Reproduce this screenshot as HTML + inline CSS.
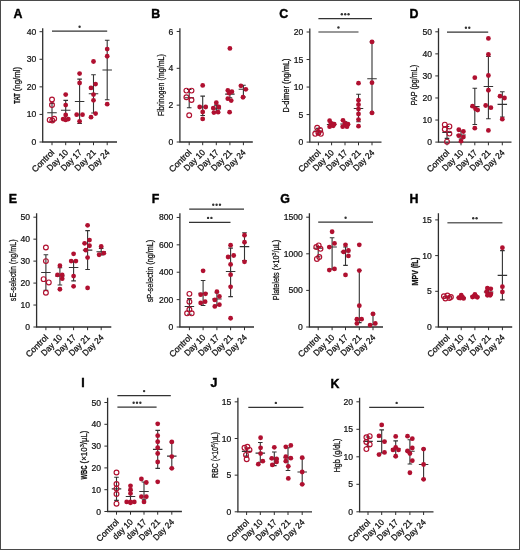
<!DOCTYPE html>
<html><head><meta charset="utf-8"><title>Figure</title>
<style>
html,body{margin:0;padding:0;background:#fff;}
body{width:520px;height:550px;overflow:hidden;position:relative;}
svg{display:block;font-family:"Liberation Sans",sans-serif;filter:blur(0.3px);}
.bd{position:absolute;left:0;top:0;width:518px;height:548px;border:1px solid #4a4a4a;}
.pl{font-size:12.4px;font-weight:bold;fill:#000;stroke:#000;stroke-width:0.4;}
.ax{fill:none;stroke:#2e2e2e;stroke-width:1.3;}
.tk{fill:none;stroke:#2e2e2e;stroke-width:1;}
.tl{font-size:8.6px;fill:#111;text-anchor:end;stroke:#111;stroke-width:0.22;}
.xl{font-size:8.6px;fill:#111;text-anchor:end;stroke:#111;stroke-width:0.28;}
.yt{font-size:8.6px;fill:#111;stroke:#111;stroke-width:0.26;}
.ytb{font-size:8.6px;fill:#111;font-weight:bold;stroke:#111;stroke-width:0.25;}
.yts{font-size:6.2px;fill:#111;stroke:#111;stroke-width:0.2;}
.pf{fill:#b01030;}
.po{fill:none;stroke:#b01030;stroke-width:1.15;}
.eb{fill:none;stroke:#333;stroke-width:1.1;}
.sg{fill:none;stroke:#333;stroke-width:1.2;}
.sg2{fill:none;stroke:#666;stroke-width:1.6;}
.st{fill:#333;}
</style></head>
<body><svg width="520" height="550" viewBox="0 0 520 550">
<text x="13.6" y="18" class="pl">A</text>
<path d="M42.7 28.3V142H117" class="ax"/>
<text x="36.2" y="145.05" class="tl">0</text>
<text x="36.2" y="117.47" class="tl">10</text>
<text x="36.2" y="89.9" class="tl">20</text>
<text x="36.2" y="62.33" class="tl">30</text>
<text x="36.2" y="34.75" class="tl">40</text>
<path d="M39.5 142H42.7M39.5 114.42H42.7M39.5 86.85H42.7M39.5 59.28H42.7M39.5 31.7H42.7M52 142V145.2M65.7 142V145.2M79.6 142V145.2M93.5 142V145.2M107.2 142V145.2" class="tk"/>
<text transform="translate(54.9 153.1) rotate(-45)" class="xl" textLength="27.72" lengthAdjust="spacingAndGlyphs">Control</text>
<text transform="translate(68.6 153.1) rotate(-45)" class="xl" textLength="25.88" lengthAdjust="spacingAndGlyphs">Day 10</text>
<text transform="translate(82.5 153.1) rotate(-45)" class="xl" textLength="25.88" lengthAdjust="spacingAndGlyphs">Day 17</text>
<text transform="translate(96.4 153.1) rotate(-45)" class="xl" textLength="25.88" lengthAdjust="spacingAndGlyphs">Day 21</text>
<text transform="translate(110.1 153.1) rotate(-45)" class="xl" textLength="25.88" lengthAdjust="spacingAndGlyphs">Day 24</text>
<text transform="translate(19.9 103.7) rotate(-90)" y="0" class="ytb" textLength="10.4" lengthAdjust="spacingAndGlyphs">TAT</text>
<text transform="translate(19.9 91.27) rotate(-90)" y="0" class="yt" textLength="24.37" lengthAdjust="spacingAndGlyphs">(ng/ml)</text>
<path d="M52 103.4V121.59M49.7 103.4h4.6M49.7 121.59h4.6M47.25 112.77h9.5" class="eb"/>
<circle cx="52" cy="99.53" r="2.4" class="po"/>
<circle cx="52" cy="105.05" r="2.4" class="po"/>
<circle cx="49.7" cy="119.94" r="2.4" class="po"/>
<circle cx="54.2" cy="118.84" r="2.4" class="po"/>
<circle cx="52.3" cy="120.49" r="2.4" class="po"/>
<path d="M65.7 100.36V119.94M63.4 100.36h4.6M63.4 119.94h4.6M60.95 110.29h9.5" class="eb"/>
<circle cx="65.7" cy="94.57" r="2.4" class="pf"/>
<circle cx="65.7" cy="105.05" r="2.4" class="pf"/>
<circle cx="65.7" cy="114.98" r="2.4" class="pf"/>
<circle cx="63.1" cy="119.11" r="2.4" class="pf"/>
<circle cx="68.3" cy="119.11" r="2.4" class="pf"/>
<circle cx="65.7" cy="119.94" r="2.4" class="pf"/>
<path d="M79.6 79.13V123.52M77.3 79.13h4.6M77.3 123.52h4.6M74.85 101.46h9.5" class="eb"/>
<circle cx="79.6" cy="73.61" r="2.4" class="pf"/>
<circle cx="79.6" cy="82.99" r="2.4" class="pf"/>
<circle cx="76.7" cy="114.7" r="2.4" class="pf"/>
<circle cx="82.5" cy="114.7" r="2.4" class="pf"/>
<circle cx="79.6" cy="121.32" r="2.4" class="pf"/>
<path d="M93.5 74.72V113.05M91.2 74.72h4.6M91.2 113.05h4.6M88.75 93.74h9.5" class="eb"/>
<circle cx="93.5" cy="61.48" r="2.4" class="pf"/>
<circle cx="95.6" cy="84.09" r="2.4" class="pf"/>
<circle cx="91" cy="87.95" r="2.4" class="pf"/>
<circle cx="93.5" cy="94.57" r="2.4" class="pf"/>
<circle cx="93.5" cy="100.36" r="2.4" class="pf"/>
<circle cx="95.6" cy="113.6" r="2.4" class="pf"/>
<circle cx="91" cy="117.18" r="2.4" class="pf"/>
<path d="M107.2 40.25V99.81M104.9 40.25h4.6M104.9 99.81h4.6M102.45 70.03h9.5" class="eb"/>
<circle cx="107.2" cy="49.07" r="2.4" class="pf"/>
<circle cx="107.2" cy="56.24" r="2.4" class="pf"/>
<circle cx="107.2" cy="104.22" r="2.4" class="pf"/>
<path d="M52 31.2H107.2" class="sg"/>
<circle cx="79.6" cy="26.7" r="1.2" class="st"/>
<text x="151.3" y="18" class="pl">B</text>
<path d="M179.9 28.3V142H252.8" class="ax"/>
<text x="173.4" y="145.05" class="tl">0</text>
<text x="173.4" y="108.21" class="tl">2</text>
<text x="173.4" y="71.37" class="tl">4</text>
<text x="173.4" y="34.53" class="tl">6</text>
<path d="M176.7 142H179.9M176.7 105.16H179.9M176.7 68.32H179.9M176.7 31.48H179.9M189.2 142V145.2M202.7 142V145.2M216.3 142V145.2M229.9 142V145.2M243.4 142V145.2" class="tk"/>
<text transform="translate(192.1 153.1) rotate(-45)" class="xl" textLength="27.72" lengthAdjust="spacingAndGlyphs">Control</text>
<text transform="translate(205.6 153.1) rotate(-45)" class="xl" textLength="25.88" lengthAdjust="spacingAndGlyphs">Day 10</text>
<text transform="translate(219.2 153.1) rotate(-45)" class="xl" textLength="25.88" lengthAdjust="spacingAndGlyphs">Day 17</text>
<text transform="translate(232.8 153.1) rotate(-45)" class="xl" textLength="25.88" lengthAdjust="spacingAndGlyphs">Day 21</text>
<text transform="translate(246.3 153.1) rotate(-45)" class="xl" textLength="25.88" lengthAdjust="spacingAndGlyphs">Day 24</text>
<text transform="translate(164 116.1) rotate(-90)" y="0" class="yt" textLength="62" lengthAdjust="spacingAndGlyphs">Fibrinogen (mg/mL)</text>
<path d="M189.2 89.5V107.74M186.9 89.5h4.6M186.9 107.74h4.6M184.45 97.79h9.5" class="eb"/>
<circle cx="186.4" cy="90.61" r="2.4" class="po"/>
<circle cx="191.5" cy="90.61" r="2.4" class="po"/>
<circle cx="186.4" cy="97.24" r="2.4" class="po"/>
<circle cx="191.5" cy="100" r="2.4" class="po"/>
<circle cx="189.2" cy="115.29" r="2.4" class="po"/>
<path d="M202.7 96.13V115.48M200.4 96.13h4.6M200.4 115.48h4.6M197.95 107h9.5" class="eb"/>
<circle cx="202.7" cy="85.45" r="2.4" class="pf"/>
<circle cx="199.7" cy="107" r="2.4" class="pf"/>
<circle cx="205.7" cy="107" r="2.4" class="pf"/>
<circle cx="202.7" cy="111.98" r="2.4" class="pf"/>
<circle cx="202.7" cy="118.97" r="2.4" class="pf"/>
<path d="M216.3 105.16V112.53M214 105.16h4.6M214 112.53h4.6M211.55 108.84h9.5" class="eb"/>
<circle cx="216.3" cy="102.77" r="2.4" class="pf"/>
<circle cx="213.3" cy="108.11" r="2.4" class="pf"/>
<circle cx="218.8" cy="107" r="2.4" class="pf"/>
<circle cx="213.9" cy="112.53" r="2.4" class="pf"/>
<circle cx="218.1" cy="112.16" r="2.4" class="pf"/>
<path d="M229.9 91.34V97.79M227.6 91.34h4.6M227.6 97.79h4.6M225.15 94.11h9.5" class="eb"/>
<circle cx="229.9" cy="48.43" r="2.4" class="pf"/>
<circle cx="227.8" cy="90.42" r="2.4" class="pf"/>
<circle cx="231.9" cy="91.71" r="2.4" class="pf"/>
<circle cx="229.2" cy="93.19" r="2.4" class="pf"/>
<circle cx="227.8" cy="98.71" r="2.4" class="pf"/>
<circle cx="231.2" cy="100.55" r="2.4" class="pf"/>
<circle cx="229.6" cy="112.16" r="2.4" class="pf"/>
<path d="M243.4 85.27V96.87M241.1 85.27h4.6M241.1 96.87h4.6M238.65 89.32h9.5" class="eb"/>
<circle cx="240.9" cy="85.82" r="2.4" class="pf"/>
<circle cx="245.8" cy="89.32" r="2.4" class="pf"/>
<circle cx="243" cy="97.24" r="2.4" class="pf"/>
<text x="279.3" y="18" class="pl">C</text>
<path d="M309.8 28.4V142.1H381.5" class="ax"/>
<text x="303.3" y="145.15" class="tl">0</text>
<text x="303.3" y="117.62" class="tl">5</text>
<text x="303.3" y="90.1" class="tl">10</text>
<text x="303.3" y="62.57" class="tl">15</text>
<text x="303.3" y="35.05" class="tl">20</text>
<path d="M306.6 142.1H309.8M306.6 114.57H309.8M306.6 87.05H309.8M306.6 59.52H309.8M306.6 32H309.8M318.4 142.1V145.3M331.6 142.1V145.3M345 142.1V145.3M358.5 142.1V145.3M372 142.1V145.3" class="tk"/>
<text transform="translate(321.3 153.2) rotate(-45)" class="xl" textLength="27.72" lengthAdjust="spacingAndGlyphs">Control</text>
<text transform="translate(334.5 153.2) rotate(-45)" class="xl" textLength="25.88" lengthAdjust="spacingAndGlyphs">Day 10</text>
<text transform="translate(347.9 153.2) rotate(-45)" class="xl" textLength="25.88" lengthAdjust="spacingAndGlyphs">Day 17</text>
<text transform="translate(361.4 153.2) rotate(-45)" class="xl" textLength="25.88" lengthAdjust="spacingAndGlyphs">Day 21</text>
<text transform="translate(374.9 153.2) rotate(-45)" class="xl" textLength="25.88" lengthAdjust="spacingAndGlyphs">Day 24</text>
<text transform="translate(288.6 112.5) rotate(-90)" y="0" class="yt" textLength="54" lengthAdjust="spacingAndGlyphs">D-dimer (ng/mL)</text>
<path d="M318.4 128.34V133.84M316.1 128.34h4.6M316.1 133.84h4.6M313.65 131.09h9.5" class="eb"/>
<circle cx="317.2" cy="127.79" r="2.4" class="po"/>
<circle cx="320.1" cy="129.99" r="2.4" class="po"/>
<circle cx="315.2" cy="133.84" r="2.4" class="po"/>
<circle cx="320.9" cy="133.84" r="2.4" class="po"/>
<circle cx="318.4" cy="132.74" r="2.4" class="po"/>
<path d="M331.6 122.28V126.69M329.3 122.28h4.6M329.3 126.69h4.6M326.85 124.48h9.5" class="eb"/>
<circle cx="329.6" cy="120.63" r="2.4" class="pf"/>
<circle cx="330.8" cy="123.11" r="2.4" class="pf"/>
<circle cx="334.2" cy="124.21" r="2.4" class="pf"/>
<circle cx="329.6" cy="126.69" r="2.4" class="pf"/>
<circle cx="333.2" cy="125.86" r="2.4" class="pf"/>
<path d="M345 121.73V126.14M342.7 121.73h4.6M342.7 126.14h4.6M340.25 123.93h9.5" class="eb"/>
<circle cx="343" cy="120.36" r="2.4" class="pf"/>
<circle cx="345" cy="123.38" r="2.4" class="pf"/>
<circle cx="348" cy="124.21" r="2.4" class="pf"/>
<circle cx="342.7" cy="126.69" r="2.4" class="pf"/>
<circle cx="347" cy="126.69" r="2.4" class="pf"/>
<path d="M358.5 94.21V121.73M356.2 94.21h4.6M356.2 121.73h4.6M353.75 108.52h9.5" class="eb"/>
<circle cx="358.5" cy="83.2" r="2.4" class="pf"/>
<circle cx="358.5" cy="100.26" r="2.4" class="pf"/>
<circle cx="358.5" cy="104.67" r="2.4" class="pf"/>
<circle cx="358.5" cy="109.07" r="2.4" class="pf"/>
<circle cx="358.5" cy="114.02" r="2.4" class="pf"/>
<circle cx="358.5" cy="119.53" r="2.4" class="pf"/>
<circle cx="358.5" cy="126.14" r="2.4" class="pf"/>
<path d="M372 41.91V112.92M369.7 41.91h4.6M369.7 112.92h4.6M367.25 78.79h9.5" class="eb"/>
<circle cx="372" cy="41.91" r="2.4" class="pf"/>
<circle cx="372" cy="82.65" r="2.4" class="pf"/>
<circle cx="372" cy="112.92" r="2.4" class="pf"/>
<path d="M318.4 32H358.5" class="sg"/>
<circle cx="338.45" cy="27.5" r="1.2" class="st"/>
<path d="M318.4 18.7H372" class="sg"/>
<circle cx="341.85" cy="14.2" r="1.2" class="st"/>
<circle cx="345.2" cy="14.2" r="1.2" class="st"/>
<circle cx="348.55" cy="14.2" r="1.2" class="st"/>
<text x="409.6" y="18" class="pl">D</text>
<path d="M438.5 28.3V142.1H511.5" class="ax"/>
<text x="432" y="145.15" class="tl">0</text>
<text x="432" y="123.09" class="tl">10</text>
<text x="432" y="101.03" class="tl">20</text>
<text x="432" y="78.97" class="tl">30</text>
<text x="432" y="56.91" class="tl">40</text>
<text x="432" y="34.85" class="tl">50</text>
<path d="M435.3 142.1H438.5M435.3 120.04H438.5M435.3 97.98H438.5M435.3 75.92H438.5M435.3 53.86H438.5M435.3 31.8H438.5M447 142.1V145.3M461 142.1V145.3M474.8 142.1V145.3M488.4 142.1V145.3M502.3 142.1V145.3" class="tk"/>
<text transform="translate(449.9 153.2) rotate(-45)" class="xl" textLength="27.72" lengthAdjust="spacingAndGlyphs">Control</text>
<text transform="translate(463.9 153.2) rotate(-45)" class="xl" textLength="25.88" lengthAdjust="spacingAndGlyphs">Day 10</text>
<text transform="translate(477.7 153.2) rotate(-45)" class="xl" textLength="25.88" lengthAdjust="spacingAndGlyphs">Day 17</text>
<text transform="translate(491.3 153.2) rotate(-45)" class="xl" textLength="25.88" lengthAdjust="spacingAndGlyphs">Day 21</text>
<text transform="translate(505.2 153.2) rotate(-45)" class="xl" textLength="25.88" lengthAdjust="spacingAndGlyphs">Day 24</text>
<text transform="translate(417 105.3) rotate(-90)" y="0" class="yt" textLength="40.4" lengthAdjust="spacingAndGlyphs">PAP (pg/mL)</text>
<path d="M447 126.44V138.35M444.7 126.44h4.6M444.7 138.35h4.6M442.25 132.39h9.5" class="eb"/>
<circle cx="444.8" cy="124.67" r="2.4" class="po"/>
<circle cx="449.4" cy="126.44" r="2.4" class="po"/>
<circle cx="444.8" cy="129.31" r="2.4" class="po"/>
<circle cx="449.4" cy="133.61" r="2.4" class="po"/>
<circle cx="447" cy="141.66" r="2.4" class="po"/>
<path d="M461 131.07V139.01M458.7 131.07h4.6M458.7 139.01h4.6M456.25 135.04h9.5" class="eb"/>
<circle cx="458.8" cy="129.75" r="2.4" class="pf"/>
<circle cx="463.4" cy="131.51" r="2.4" class="pf"/>
<circle cx="458.8" cy="135.7" r="2.4" class="pf"/>
<circle cx="463.4" cy="137.03" r="2.4" class="pf"/>
<circle cx="461" cy="141.22" r="2.4" class="pf"/>
<path d="M474.8 88.27V124.45M472.5 88.27h4.6M472.5 124.45h4.6M470.05 106.58h9.5" class="eb"/>
<circle cx="474.8" cy="77.68" r="2.4" class="pf"/>
<circle cx="472.5" cy="106.14" r="2.4" class="pf"/>
<circle cx="475.5" cy="108.79" r="2.4" class="pf"/>
<circle cx="477.7" cy="110.11" r="2.4" class="pf"/>
<circle cx="474.8" cy="128.2" r="2.4" class="pf"/>
<path d="M488.4 56.51V118.72M486.1 56.51h4.6M486.1 118.72h4.6M483.65 86.51h9.5" class="eb"/>
<circle cx="488.4" cy="38.42" r="2.4" class="pf"/>
<circle cx="488.4" cy="54.52" r="2.4" class="pf"/>
<circle cx="488.4" cy="75.48" r="2.4" class="pf"/>
<circle cx="488.4" cy="90.26" r="2.4" class="pf"/>
<circle cx="485.7" cy="105.48" r="2.4" class="pf"/>
<circle cx="490.9" cy="107.69" r="2.4" class="pf"/>
<circle cx="488.4" cy="130.41" r="2.4" class="pf"/>
<path d="M502.3 91.8V116.95M500 91.8h4.6M500 116.95h4.6M497.55 104.38h9.5" class="eb"/>
<circle cx="500" cy="96.22" r="2.4" class="pf"/>
<circle cx="504.5" cy="97.98" r="2.4" class="pf"/>
<circle cx="502.3" cy="119.16" r="2.4" class="pf"/>
<path d="M447 32.2H488.2" class="sg"/>
<circle cx="465.93" cy="27.7" r="1.2" class="st"/>
<circle cx="469.28" cy="27.7" r="1.2" class="st"/>
<text x="8.8" y="202.5" class="pl">E</text>
<path d="M36.6 213.3V327H111.3" class="ax"/>
<text x="30.1" y="330.05" class="tl">0</text>
<text x="30.1" y="308.09" class="tl">10</text>
<text x="30.1" y="286.13" class="tl">20</text>
<text x="30.1" y="264.17" class="tl">30</text>
<text x="30.1" y="242.21" class="tl">40</text>
<text x="30.1" y="220.25" class="tl">50</text>
<path d="M33.4 327H36.6M33.4 305.04H36.6M33.4 283.08H36.6M33.4 261.12H36.6M33.4 239.16H36.6M33.4 217.2H36.6M45.9 327V330.2M59.9 327V330.2M73.6 327V330.2M87.6 327V330.2M101.2 327V330.2" class="tk"/>
<text transform="translate(48.8 338.1) rotate(-45)" class="xl" textLength="27.72" lengthAdjust="spacingAndGlyphs">Control</text>
<text transform="translate(62.8 338.1) rotate(-45)" class="xl" textLength="25.88" lengthAdjust="spacingAndGlyphs">Day 10</text>
<text transform="translate(76.5 338.1) rotate(-45)" class="xl" textLength="25.88" lengthAdjust="spacingAndGlyphs">Day 17</text>
<text transform="translate(90.5 338.1) rotate(-45)" class="xl" textLength="25.88" lengthAdjust="spacingAndGlyphs">Day 21</text>
<text transform="translate(104.1 338.1) rotate(-45)" class="xl" textLength="25.88" lengthAdjust="spacingAndGlyphs">Day 24</text>
<text transform="translate(15.6 301.15) rotate(-90)" y="0" class="yt" textLength="61.7" lengthAdjust="spacingAndGlyphs">sE-selectin (ng/mL)</text>
<path d="M45.9 254.75V290.33M43.6 254.75h4.6M43.6 290.33h4.6M41.15 272.54h9.5" class="eb"/>
<circle cx="45.9" cy="247.5" r="2.4" class="po"/>
<circle cx="45.9" cy="261.12" r="2.4" class="po"/>
<circle cx="43.6" cy="279.13" r="2.4" class="po"/>
<circle cx="48.8" cy="282.42" r="2.4" class="po"/>
<circle cx="45.9" cy="292.74" r="2.4" class="po"/>
<path d="M59.9 267.71V285.06M57.6 267.71h4.6M57.6 285.06h4.6M55.15 276.05h9.5" class="eb"/>
<circle cx="59.9" cy="265.73" r="2.4" class="pf"/>
<circle cx="57.5" cy="274.95" r="2.4" class="pf"/>
<circle cx="62.2" cy="274.95" r="2.4" class="pf"/>
<circle cx="62.2" cy="278.69" r="2.4" class="pf"/>
<circle cx="59.9" cy="289.23" r="2.4" class="pf"/>
<path d="M73.6 261.12V280.88M71.3 261.12h4.6M71.3 280.88h4.6M68.85 267.49h9.5" class="eb"/>
<circle cx="73.6" cy="253.87" r="2.4" class="pf"/>
<circle cx="71.2" cy="261.12" r="2.4" class="pf"/>
<circle cx="75.9" cy="261.12" r="2.4" class="pf"/>
<circle cx="73.6" cy="276.05" r="2.4" class="pf"/>
<circle cx="73.6" cy="286.37" r="2.4" class="pf"/>
<path d="M87.6 230.6V269.46M85.3 230.6h4.6M85.3 269.46h4.6M82.85 250.14h9.5" class="eb"/>
<circle cx="87.6" cy="225.33" r="2.4" class="pf"/>
<circle cx="89.5" cy="240.04" r="2.4" class="pf"/>
<circle cx="84.6" cy="243.33" r="2.4" class="pf"/>
<circle cx="89.5" cy="245.75" r="2.4" class="pf"/>
<circle cx="85.8" cy="250.14" r="2.4" class="pf"/>
<circle cx="87.6" cy="257.61" r="2.4" class="pf"/>
<circle cx="87.6" cy="287.91" r="2.4" class="pf"/>
<path d="M101.2 248.38V254.97M98.9 248.38h4.6M98.9 254.97h4.6M96.45 251.68h9.5" class="eb"/>
<circle cx="101.2" cy="246.41" r="2.4" class="pf"/>
<circle cx="99.1" cy="254.75" r="2.4" class="pf"/>
<circle cx="103.8" cy="253.21" r="2.4" class="pf"/>
<text x="151.7" y="202.5" class="pl">F</text>
<path d="M179.9 213.3V327H254" class="ax"/>
<text x="173.4" y="330.05" class="tl">0</text>
<text x="173.4" y="302.66" class="tl">200</text>
<text x="173.4" y="275.27" class="tl">400</text>
<text x="173.4" y="247.88" class="tl">600</text>
<text x="173.4" y="220.49" class="tl">800</text>
<path d="M176.7 327H179.9M176.7 299.61H179.9M176.7 272.22H179.9M176.7 244.83H179.9M176.7 217.44H179.9M189.4 327V330.2M203.1 327V330.2M216.9 327V330.2M230.6 327V330.2M244.5 327V330.2" class="tk"/>
<text transform="translate(192.3 338.1) rotate(-45)" class="xl" textLength="27.72" lengthAdjust="spacingAndGlyphs">Control</text>
<text transform="translate(206 338.1) rotate(-45)" class="xl" textLength="25.88" lengthAdjust="spacingAndGlyphs">Day 10</text>
<text transform="translate(219.8 338.1) rotate(-45)" class="xl" textLength="25.88" lengthAdjust="spacingAndGlyphs">Day 17</text>
<text transform="translate(233.5 338.1) rotate(-45)" class="xl" textLength="25.88" lengthAdjust="spacingAndGlyphs">Day 21</text>
<text transform="translate(247.4 338.1) rotate(-45)" class="xl" textLength="25.88" lengthAdjust="spacingAndGlyphs">Day 24</text>
<text transform="translate(152.5 302.3) rotate(-90)" y="0" class="yt" textLength="62.6" lengthAdjust="spacingAndGlyphs">sP-selectin (ng/mL)</text>
<path d="M189.4 298.65V314.26M187.1 298.65h4.6M187.1 314.26h4.6M184.65 306.46h9.5" class="eb"/>
<circle cx="189.4" cy="293.86" r="2.4" class="po"/>
<circle cx="189.4" cy="301.8" r="2.4" class="po"/>
<circle cx="189.4" cy="309.47" r="2.4" class="po"/>
<circle cx="187.1" cy="313.31" r="2.4" class="po"/>
<circle cx="191.7" cy="313.31" r="2.4" class="po"/>
<path d="M203.1 280.44V305.5M200.8 280.44h4.6M200.8 305.5h4.6M198.35 293.31h9.5" class="eb"/>
<circle cx="203.1" cy="270.85" r="2.4" class="pf"/>
<circle cx="200.7" cy="294.68" r="2.4" class="pf"/>
<circle cx="205.5" cy="293.86" r="2.4" class="pf"/>
<circle cx="200.7" cy="302.9" r="2.4" class="pf"/>
<circle cx="205.1" cy="301.66" r="2.4" class="pf"/>
<path d="M216.9 292.76V305.36M214.6 292.76h4.6M214.6 305.36h4.6M212.15 299.06h9.5" class="eb"/>
<circle cx="216.9" cy="291.67" r="2.4" class="pf"/>
<circle cx="219.4" cy="296.46" r="2.4" class="pf"/>
<circle cx="214.8" cy="299.88" r="2.4" class="pf"/>
<circle cx="219.4" cy="304.68" r="2.4" class="pf"/>
<circle cx="214.8" cy="306.46" r="2.4" class="pf"/>
<path d="M230.6 248.12V296.6M228.3 248.12h4.6M228.3 296.6h4.6M225.85 271.54h9.5" class="eb"/>
<circle cx="230.6" cy="245.24" r="2.4" class="pf"/>
<circle cx="228.1" cy="257.02" r="2.4" class="pf"/>
<circle cx="233.7" cy="255.51" r="2.4" class="pf"/>
<circle cx="230.6" cy="264.41" r="2.4" class="pf"/>
<circle cx="230.6" cy="274.69" r="2.4" class="pf"/>
<circle cx="230.6" cy="286.87" r="2.4" class="pf"/>
<circle cx="230.6" cy="318.24" r="2.4" class="pf"/>
<path d="M244.5 232.78V260.44M242.2 232.78h4.6M242.2 260.44h4.6M239.75 246.61h9.5" class="eb"/>
<circle cx="244.5" cy="235.24" r="2.4" class="pf"/>
<circle cx="244.5" cy="242.23" r="2.4" class="pf"/>
<circle cx="244.5" cy="261.81" r="2.4" class="pf"/>
<path d="M189 222.4H230.5" class="sg"/>
<circle cx="208.07" cy="217.9" r="1.2" class="st"/>
<circle cx="211.43" cy="217.9" r="1.2" class="st"/>
<path d="M189.2 209.2H244" class="sg"/>
<circle cx="213.25" cy="204.7" r="1.2" class="st"/>
<circle cx="216.6" cy="204.7" r="1.2" class="st"/>
<circle cx="219.95" cy="204.7" r="1.2" class="st"/>
<text x="280.3" y="202.5" class="pl">G</text>
<path d="M309.4 213.3V327H383" class="ax"/>
<text x="302.9" y="330.05" class="tl">0</text>
<text x="302.9" y="293.45" class="tl">500</text>
<text x="302.9" y="256.85" class="tl">1000</text>
<text x="302.9" y="220.25" class="tl">1500</text>
<path d="M306.2 327H309.4M306.2 290.4H309.4M306.2 253.8H309.4M306.2 217.2H309.4M318.2 327V330.2M332.1 327V330.2M345.5 327V330.2M359.3 327V330.2M373 327V330.2" class="tk"/>
<text transform="translate(321.1 338.1) rotate(-45)" class="xl" textLength="27.72" lengthAdjust="spacingAndGlyphs">Control</text>
<text transform="translate(335 338.1) rotate(-45)" class="xl" textLength="25.88" lengthAdjust="spacingAndGlyphs">Day 10</text>
<text transform="translate(348.4 338.1) rotate(-45)" class="xl" textLength="25.88" lengthAdjust="spacingAndGlyphs">Day 17</text>
<text transform="translate(362.2 338.1) rotate(-45)" class="xl" textLength="25.88" lengthAdjust="spacingAndGlyphs">Day 21</text>
<text transform="translate(375.9 338.1) rotate(-45)" class="xl" textLength="25.88" lengthAdjust="spacingAndGlyphs">Day 24</text>
<text transform="translate(278.9 300.3) rotate(-90)" y="0" class="yt" textLength="44.92" lengthAdjust="spacingAndGlyphs">Platelets (×10</text>
<text transform="translate(278.9 255.38) rotate(-90)" y="-3" class="yts" textLength="2.93" lengthAdjust="spacingAndGlyphs">3</text>
<text transform="translate(278.9 252.45) rotate(-90)" y="0" class="yt" textLength="12.75" lengthAdjust="spacingAndGlyphs">/µL)</text>
<path d="M318.2 246.48V256.73M315.9 246.48h4.6M315.9 256.73h4.6M313.45 248.31h9.5" class="eb"/>
<circle cx="316.3" cy="247.07" r="2.4" class="po"/>
<circle cx="318.7" cy="245.38" r="2.4" class="po"/>
<circle cx="320.5" cy="248.82" r="2.4" class="po"/>
<circle cx="316.9" cy="258.92" r="2.4" class="po"/>
<circle cx="319.3" cy="257.09" r="2.4" class="po"/>
<path d="M332.1 237.7V269.17M329.8 237.7h4.6M329.8 269.17h4.6M327.35 247.07h9.5" class="eb"/>
<circle cx="332.1" cy="231.77" r="2.4" class="pf"/>
<circle cx="334.5" cy="243.41" r="2.4" class="pf"/>
<circle cx="329.3" cy="247.07" r="2.4" class="pf"/>
<circle cx="329.3" cy="270.12" r="2.4" class="pf"/>
<circle cx="334.5" cy="268.95" r="2.4" class="pf"/>
<path d="M345.5 247.07V265.37M343.2 247.07h4.6M343.2 265.37h4.6M340.75 251.9h9.5" class="eb"/>
<circle cx="345.5" cy="244.8" r="2.4" class="pf"/>
<circle cx="348.4" cy="250.51" r="2.4" class="pf"/>
<circle cx="343.6" cy="251.9" r="2.4" class="pf"/>
<circle cx="348.4" cy="255.92" r="2.4" class="pf"/>
<circle cx="345.5" cy="274.88" r="2.4" class="pf"/>
<path d="M359.3 270.56V322.61M357 270.56h4.6M357 322.61h4.6" class="eb"/>
<circle cx="359.3" cy="244.8" r="2.4" class="pf"/>
<circle cx="359.3" cy="270.56" r="2.4" class="pf"/>
<circle cx="359.3" cy="305.63" r="2.4" class="pf"/>
<circle cx="356.9" cy="319.17" r="2.4" class="pf"/>
<circle cx="361.6" cy="319.17" r="2.4" class="pf"/>
<circle cx="356.9" cy="323.41" r="2.4" class="pf"/>
<path d="M373 313.97V324.8M370.7 313.97h4.6M370.7 324.8h4.6" class="eb"/>
<circle cx="373" cy="313.97" r="2.4" class="pf"/>
<circle cx="370.1" cy="325.1" r="2.4" class="pf"/>
<circle cx="375.3" cy="323.41" r="2.4" class="pf"/>
<path d="M318.2 222.2H373" class="sg"/>
<circle cx="345.6" cy="217.7" r="1.2" class="st"/>
<text x="409.5" y="202.5" class="pl">H</text>
<path d="M438.4 213.3V327H512.2" class="ax"/>
<text x="431.9" y="330.05" class="tl">0</text>
<text x="431.9" y="294.35" class="tl">5</text>
<text x="431.9" y="258.65" class="tl">10</text>
<text x="431.9" y="222.95" class="tl">15</text>
<path d="M435.2 327H438.4M435.2 291.3H438.4M435.2 255.6H438.4M435.2 219.9H438.4M447.4 327V330.2M461.2 327V330.2M474.9 327V330.2M488.6 327V330.2M502.4 327V330.2" class="tk"/>
<text transform="translate(450.3 338.1) rotate(-45)" class="xl" textLength="27.72" lengthAdjust="spacingAndGlyphs">Control</text>
<text transform="translate(464.1 338.1) rotate(-45)" class="xl" textLength="25.88" lengthAdjust="spacingAndGlyphs">Day 10</text>
<text transform="translate(477.8 338.1) rotate(-45)" class="xl" textLength="25.88" lengthAdjust="spacingAndGlyphs">Day 17</text>
<text transform="translate(491.5 338.1) rotate(-45)" class="xl" textLength="25.88" lengthAdjust="spacingAndGlyphs">Day 21</text>
<text transform="translate(505.3 338.1) rotate(-45)" class="xl" textLength="25.88" lengthAdjust="spacingAndGlyphs">Day 24</text>
<text transform="translate(417.6 285.45) rotate(-90)" y="0" class="ytb" textLength="15.3" lengthAdjust="spacingAndGlyphs">MPV</text>
<text transform="translate(417.6 268.12) rotate(-90)" y="0" class="ytb" textLength="10.57" lengthAdjust="spacingAndGlyphs">(fL)</text>
<path d="M447.4 296.3V297.73M445.1 296.3h4.6M445.1 297.73h4.6M442.65 297.01h9.5" class="eb"/>
<circle cx="443.9" cy="296.3" r="2.4" class="po"/>
<circle cx="447.4" cy="295.58" r="2.4" class="po"/>
<circle cx="450.9" cy="297.01" r="2.4" class="po"/>
<circle cx="445.4" cy="298.44" r="2.4" class="po"/>
<circle cx="449.4" cy="298.08" r="2.4" class="po"/>
<path d="M461.2 297.01V298.44M458.9 297.01h4.6M458.9 298.44h4.6M456.45 297.73h9.5" class="eb"/>
<circle cx="461.2" cy="295.23" r="2.4" class="pf"/>
<circle cx="458.8" cy="297.73" r="2.4" class="pf"/>
<circle cx="463.6" cy="298.44" r="2.4" class="pf"/>
<circle cx="460.2" cy="298.08" r="2.4" class="pf"/>
<circle cx="462.4" cy="297.01" r="2.4" class="pf"/>
<path d="M474.9 295.58V297.01M472.6 295.58h4.6M472.6 297.01h4.6M470.15 296.3h9.5" class="eb"/>
<circle cx="474.9" cy="294.51" r="2.4" class="pf"/>
<circle cx="472.5" cy="297.01" r="2.4" class="pf"/>
<circle cx="477.3" cy="297.37" r="2.4" class="pf"/>
<circle cx="473.9" cy="296.3" r="2.4" class="pf"/>
<circle cx="476.1" cy="296.3" r="2.4" class="pf"/>
<path d="M488.6 289.16V294.87M486.3 289.16h4.6M486.3 294.87h4.6M483.85 292.01h9.5" class="eb"/>
<circle cx="487.4" cy="288.09" r="2.4" class="pf"/>
<circle cx="490.8" cy="288.8" r="2.4" class="pf"/>
<circle cx="486.6" cy="291.66" r="2.4" class="pf"/>
<circle cx="490.9" cy="293.8" r="2.4" class="pf"/>
<circle cx="487.4" cy="295.23" r="2.4" class="pf"/>
<circle cx="490.2" cy="295.23" r="2.4" class="pf"/>
<path d="M502.4 250.6V299.87M500.1 250.6h4.6M500.1 299.87h4.6M497.65 275.38h9.5" class="eb"/>
<circle cx="502.4" cy="247.75" r="2.4" class="pf"/>
<circle cx="502.4" cy="286.66" r="2.4" class="pf"/>
<circle cx="502.4" cy="292.01" r="2.4" class="pf"/>
<path d="M447.4 222.8H502.4" class="sg2"/>
<circle cx="473.22" cy="218.3" r="1.2" class="st"/>
<circle cx="476.57" cy="218.3" r="1.2" class="st"/>
<text x="81.3" y="387.3" class="pl">I</text>
<path d="M107.6 397.8V511.5H181.9" class="ax"/>
<text x="101.1" y="514.55" class="tl">0</text>
<text x="101.1" y="492.75" class="tl">10</text>
<text x="101.1" y="470.95" class="tl">20</text>
<text x="101.1" y="449.15" class="tl">30</text>
<text x="101.1" y="427.35" class="tl">40</text>
<text x="101.1" y="405.55" class="tl">50</text>
<path d="M104.4 511.5H107.6M104.4 489.7H107.6M104.4 467.9H107.6M104.4 446.1H107.6M104.4 424.3H107.6M104.4 402.5H107.6M116.5 511.5V514.7M130.5 511.5V514.7M144 511.5V514.7M157.7 511.5V514.7M171.8 511.5V514.7" class="tk"/>
<text transform="translate(119.4 522.6) rotate(-45)" class="xl" textLength="27.72" lengthAdjust="spacingAndGlyphs">Control</text>
<text transform="translate(133.4 522.6) rotate(-45)" class="xl" textLength="24.53" lengthAdjust="spacingAndGlyphs">day 10</text>
<text transform="translate(146.9 522.6) rotate(-45)" class="xl" textLength="24.53" lengthAdjust="spacingAndGlyphs">day 17</text>
<text transform="translate(160.6 522.6) rotate(-45)" class="xl" textLength="25.88" lengthAdjust="spacingAndGlyphs">Day 21</text>
<text transform="translate(174.7 522.6) rotate(-45)" class="xl" textLength="25.88" lengthAdjust="spacingAndGlyphs">Day 24</text>
<text transform="translate(87.2 479.45) rotate(-90)" y="0" class="ytb" textLength="14" lengthAdjust="spacingAndGlyphs">WBC</text>
<text transform="translate(87.2 463.42) rotate(-90)" y="0" class="yt" textLength="16.06" lengthAdjust="spacingAndGlyphs">(×10</text>
<text transform="translate(87.2 447.36) rotate(-90)" y="-3" class="yts" textLength="3.14" lengthAdjust="spacingAndGlyphs">3</text>
<text transform="translate(87.2 444.22) rotate(-90)" y="0" class="yt" textLength="13.67" lengthAdjust="spacingAndGlyphs">/µL)</text>
<path d="M116.5 477.27V500.38M114.2 477.27h4.6M114.2 500.38h4.6M111.75 488.83h9.5" class="eb"/>
<circle cx="116.5" cy="472.48" r="2.4" class="po"/>
<circle cx="116.5" cy="484.03" r="2.4" class="po"/>
<circle cx="116.5" cy="488.61" r="2.4" class="po"/>
<circle cx="116.5" cy="494.06" r="2.4" class="po"/>
<circle cx="116.5" cy="503.65" r="2.4" class="po"/>
<path d="M130.5 490.57V502.34M128.2 490.57h4.6M128.2 502.34h4.6M125.75 496.46h9.5" class="eb"/>
<circle cx="130.5" cy="485.78" r="2.4" class="pf"/>
<circle cx="130.5" cy="489.7" r="2.4" class="pf"/>
<circle cx="130.5" cy="493.41" r="2.4" class="pf"/>
<circle cx="126.7" cy="501.91" r="2.4" class="pf"/>
<circle cx="130.5" cy="501.91" r="2.4" class="pf"/>
<circle cx="134.3" cy="501.91" r="2.4" class="pf"/>
<circle cx="130.5" cy="502.78" r="2.4" class="pf"/>
<path d="M144 482.07V499.73M141.7 482.07h4.6M141.7 499.73h4.6M139.25 491.44h9.5" class="eb"/>
<circle cx="141.4" cy="479.02" r="2.4" class="pf"/>
<circle cx="146.3" cy="482.51" r="2.4" class="pf"/>
<circle cx="141.4" cy="496.68" r="2.4" class="pf"/>
<circle cx="146.3" cy="496.68" r="2.4" class="pf"/>
<circle cx="144" cy="501.91" r="2.4" class="pf"/>
<path d="M157.7 430.4V468.34M155.4 430.4h4.6M155.4 468.34h4.6M152.95 449.37h9.5" class="eb"/>
<circle cx="157.7" cy="423.86" r="2.4" class="pf"/>
<circle cx="157.7" cy="435.64" r="2.4" class="pf"/>
<circle cx="157.7" cy="441.74" r="2.4" class="pf"/>
<circle cx="157.7" cy="447.63" r="2.4" class="pf"/>
<circle cx="157.7" cy="453.51" r="2.4" class="pf"/>
<circle cx="157.7" cy="462.01" r="2.4" class="pf"/>
<circle cx="157.7" cy="481.85" r="2.4" class="pf"/>
<path d="M171.8 441.96V468.34M169.5 441.96h4.6M169.5 468.34h4.6M167.05 456.13h9.5" class="eb"/>
<circle cx="171.8" cy="441.96" r="2.4" class="pf"/>
<circle cx="171.8" cy="456.56" r="2.4" class="pf"/>
<circle cx="171.8" cy="468.34" r="2.4" class="pf"/>
<path d="M117.4 395.6H170.8" class="sg"/>
<circle cx="144.1" cy="391.1" r="1.2" class="st"/>
<path d="M117.4 407.2H156.6" class="sg"/>
<circle cx="133.65" cy="402.7" r="1.2" class="st"/>
<circle cx="137" cy="402.7" r="1.2" class="st"/>
<circle cx="140.35" cy="402.7" r="1.2" class="st"/>
<text x="210.5" y="387.3" class="pl">J</text>
<path d="M237.9 397.8V511.8H312" class="ax"/>
<text x="231.4" y="514.85" class="tl">0</text>
<text x="231.4" y="478.2" class="tl">5</text>
<text x="231.4" y="441.55" class="tl">10</text>
<text x="231.4" y="404.9" class="tl">15</text>
<path d="M234.7 511.8H237.9M234.7 475.15H237.9M234.7 438.5H237.9M234.7 401.85H237.9M246.6 511.8V515M260.3 511.8V515M274.3 511.8V515M288 511.8V515M302.2 511.8V515" class="tk"/>
<text transform="translate(249.5 522.9) rotate(-45)" class="xl" textLength="27.72" lengthAdjust="spacingAndGlyphs">Control</text>
<text transform="translate(263.2 522.9) rotate(-45)" class="xl" textLength="25.88" lengthAdjust="spacingAndGlyphs">Day 10</text>
<text transform="translate(277.2 522.9) rotate(-45)" class="xl" textLength="25.88" lengthAdjust="spacingAndGlyphs">Day 17</text>
<text transform="translate(290.9 522.9) rotate(-45)" class="xl" textLength="25.88" lengthAdjust="spacingAndGlyphs">Day 21</text>
<text transform="translate(305.1 522.9) rotate(-45)" class="xl" textLength="25.88" lengthAdjust="spacingAndGlyphs">Day 24</text>
<text transform="translate(217.8 477.9) rotate(-90)" y="0" class="yt" textLength="30.84" lengthAdjust="spacingAndGlyphs">RBC (×10</text>
<text transform="translate(217.8 447.06) rotate(-90)" y="-3" class="yts" textLength="2.8" lengthAdjust="spacingAndGlyphs">6</text>
<text transform="translate(217.8 444.27) rotate(-90)" y="0" class="yt" textLength="12.17" lengthAdjust="spacingAndGlyphs">/µL)</text>
<path d="M246.6 448.03V456.09M244.3 448.03h4.6M244.3 456.09h4.6M241.85 451.33h9.5" class="eb"/>
<circle cx="244.5" cy="447.81" r="2.4" class="po"/>
<circle cx="247.4" cy="446.78" r="2.4" class="po"/>
<circle cx="249.5" cy="449.93" r="2.4" class="po"/>
<circle cx="246" cy="454.92" r="2.4" class="po"/>
<circle cx="246.7" cy="459.17" r="2.4" class="po"/>
<path d="M260.3 442.53V462.18M258 442.53h4.6M258 462.18h4.6M255.55 453.16h9.5" class="eb"/>
<circle cx="260.6" cy="437.77" r="2.4" class="pf"/>
<circle cx="260.6" cy="447.81" r="2.4" class="pf"/>
<circle cx="260.6" cy="453.53" r="2.4" class="pf"/>
<circle cx="262.8" cy="461.22" r="2.4" class="pf"/>
<circle cx="258.3" cy="464.16" r="2.4" class="pf"/>
<path d="M274.3 451.99V465.62M272 451.99h4.6M272 465.62h4.6M269.55 459.02h9.5" class="eb"/>
<circle cx="274.3" cy="447.3" r="2.4" class="pf"/>
<circle cx="271.8" cy="458.29" r="2.4" class="pf"/>
<circle cx="276.6" cy="459.02" r="2.4" class="pf"/>
<circle cx="276.6" cy="461.96" r="2.4" class="pf"/>
<circle cx="272.3" cy="464.89" r="2.4" class="pf"/>
<path d="M288 447.81V470.53M285.7 447.81h4.6M285.7 470.53h4.6M283.25 457.7h9.5" class="eb"/>
<circle cx="285.8" cy="446.78" r="2.4" class="pf"/>
<circle cx="290.8" cy="445.39" r="2.4" class="pf"/>
<circle cx="285.8" cy="456.68" r="2.4" class="pf"/>
<circle cx="290.8" cy="458.22" r="2.4" class="pf"/>
<circle cx="285.8" cy="461.22" r="2.4" class="pf"/>
<circle cx="288.3" cy="466.35" r="2.4" class="pf"/>
<circle cx="288.3" cy="478.45" r="2.4" class="pf"/>
<path d="M302.2 458.29V483.95M299.9 458.29h4.6M299.9 483.95h4.6M297.45 472h9.5" class="eb"/>
<circle cx="302.2" cy="457.7" r="2.4" class="pf"/>
<circle cx="302.2" cy="472" r="2.4" class="pf"/>
<circle cx="302.2" cy="484.31" r="2.4" class="pf"/>
<path d="M248.3 407.4H303.4" class="sg"/>
<circle cx="275.85" cy="402.9" r="1.2" class="st"/>
<text x="330.6" y="387.5" class="pl">K</text>
<path d="M359.6 397.8V511.8H433.5" class="ax"/>
<text x="353.1" y="514.85" class="tl">0</text>
<text x="353.1" y="487.35" class="tl">5</text>
<text x="353.1" y="459.85" class="tl">10</text>
<text x="353.1" y="432.35" class="tl">15</text>
<text x="353.1" y="404.85" class="tl">20</text>
<path d="M356.4 511.8H359.6M356.4 484.3H359.6M356.4 456.8H359.6M356.4 429.3H359.6M356.4 401.8H359.6M368 511.8V515M381.7 511.8V515M395.7 511.8V515M409.9 511.8V515M423.6 511.8V515" class="tk"/>
<text transform="translate(370.9 522.9) rotate(-45)" class="xl" textLength="27.72" lengthAdjust="spacingAndGlyphs">Control</text>
<text transform="translate(384.6 522.9) rotate(-45)" class="xl" textLength="25.88" lengthAdjust="spacingAndGlyphs">Day 10</text>
<text transform="translate(398.6 522.9) rotate(-45)" class="xl" textLength="25.88" lengthAdjust="spacingAndGlyphs">Day 17</text>
<text transform="translate(412.8 522.9) rotate(-45)" class="xl" textLength="25.88" lengthAdjust="spacingAndGlyphs">Day 21</text>
<text transform="translate(426.5 522.9) rotate(-45)" class="xl" textLength="25.88" lengthAdjust="spacingAndGlyphs">Day 24</text>
<text transform="translate(339.7 472.3) rotate(-90)" y="0" class="yt" textLength="33.8" lengthAdjust="spacingAndGlyphs">Hgb (g/dL)</text>
<path d="M368 437V446.35M365.7 437h4.6M365.7 446.35h4.6M363.25 441.4h9.5" class="eb"/>
<circle cx="366.4" cy="437.27" r="2.4" class="po"/>
<circle cx="369.7" cy="436.18" r="2.4" class="po"/>
<circle cx="366.4" cy="441.95" r="2.4" class="po"/>
<circle cx="369.7" cy="444.43" r="2.4" class="po"/>
<circle cx="366.4" cy="449.1" r="2.4" class="po"/>
<path d="M381.7 429.85V452.95M379.4 429.85h4.6M379.4 452.95h4.6M376.95 441.4h9.5" class="eb"/>
<circle cx="381.7" cy="424.9" r="2.4" class="pf"/>
<circle cx="379" cy="435.9" r="2.4" class="pf"/>
<circle cx="384.5" cy="441.68" r="2.4" class="pf"/>
<circle cx="384.5" cy="452.4" r="2.4" class="pf"/>
<circle cx="379" cy="454.6" r="2.4" class="pf"/>
<path d="M395.7 440.85V456.8M393.4 440.85h4.6M393.4 456.8h4.6M390.95 448.55h9.5" class="eb"/>
<circle cx="395.7" cy="436.45" r="2.4" class="pf"/>
<circle cx="395.7" cy="447.45" r="2.4" class="pf"/>
<circle cx="393" cy="449.93" r="2.4" class="pf"/>
<circle cx="398.5" cy="449.93" r="2.4" class="pf"/>
<circle cx="395.7" cy="456.25" r="2.4" class="pf"/>
<path d="M409.9 439.75V463.95M407.6 439.75h4.6M407.6 463.95h4.6M405.15 451.3h9.5" class="eb"/>
<circle cx="407.5" cy="436.18" r="2.4" class="pf"/>
<circle cx="412.3" cy="438.65" r="2.4" class="pf"/>
<circle cx="412.3" cy="448" r="2.4" class="pf"/>
<circle cx="407.5" cy="451.02" r="2.4" class="pf"/>
<circle cx="409.9" cy="453.5" r="2.4" class="pf"/>
<circle cx="412.3" cy="460.65" r="2.4" class="pf"/>
<circle cx="409.9" cy="472.75" r="2.4" class="pf"/>
<path d="M423.6 449.1V479.35M421.3 449.1h4.6M421.3 479.35h4.6M418.85 464.5h9.5" class="eb"/>
<circle cx="423.6" cy="449.1" r="2.4" class="pf"/>
<circle cx="423.6" cy="464.5" r="2.4" class="pf"/>
<circle cx="423.6" cy="479.35" r="2.4" class="pf"/>
<path d="M369.2 407.4H424.1" class="sg"/>
<circle cx="396.65" cy="402.9" r="1.2" class="st"/>
</svg><div class="bd"></div></body></html>
